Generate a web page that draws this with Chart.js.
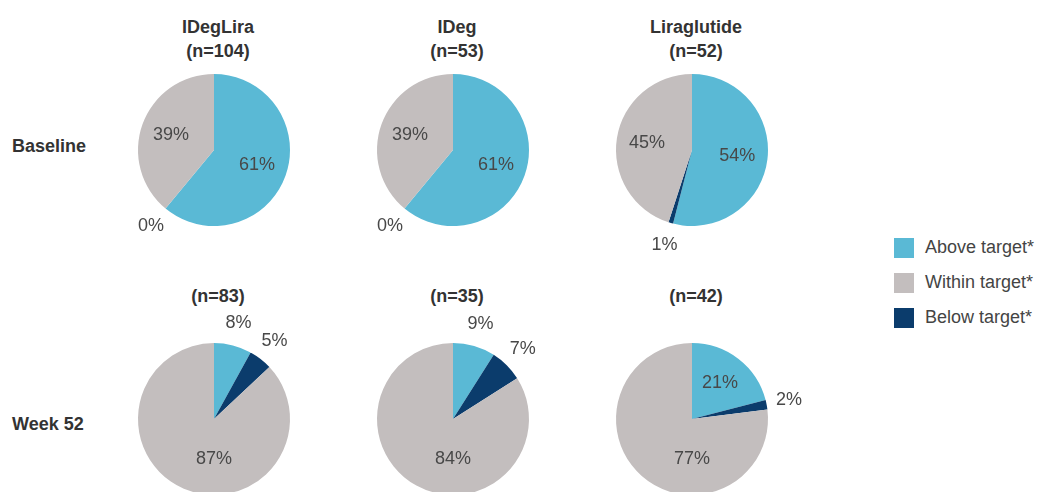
<!DOCTYPE html>
<html>
<head>
<meta charset="utf-8">
<script src="https://cdn.jsdelivr.net/npm/chart.js@4/dist/chart.umd.min.js"></script>
<style>
  body { margin: 0; background: #fff; overflow: hidden; font-family: "Liberation Sans", Arial, sans-serif; }
  #wrap { position: relative; width: 1039px; height: 492px; overflow: hidden; }
  .pie { position: absolute; width: 240px; height: 210px; }
  .txt { position: absolute; color: #333; font-weight: bold; font-size: 18px; white-space: nowrap; line-height: 24px; }
  .title { transform: translateX(-50%); text-align: center; }
  .leg { position: absolute; left: 894px; font-size: 18px; color: #444; white-space: nowrap; }
  .leg span { display: inline-block; width: 20px; height: 20px; vertical-align: middle; margin-right: 11px; }
</style>
</head>
<body>
<div id="wrap"></div>
<script>
const groups = ['IDegLira', 'IDeg', 'Liraglutide'];
const rows = ['Baseline', 'Week 52'];
const baselineN = [104, 53, 52];
const week52N = [83, 35, 42];

// slice order clockwise from 12 o'clock: above, below, within
const categories = ['Above target*', 'Below target*', 'Within target*'];
const baselineAbove = [61, 61, 54];
const baselineBelow = [0, 0, 1];
const baselineWithin = [39, 39, 45];
const week52Above = [8, 9, 21];
const week52Below = [5, 7, 2];
const week52Within = [87, 84, 77];

const colors = ['#5ab9d5', '#0b3c6c', '#c3bebe'];
const legendOrder = [0, 2, 1];

const colX = [214, 453, 692];
const rowY = [150, 419];

const wrap = document.getElementById('wrap');

function addText(cls, text, x, y) {
    const d = document.createElement('div');
    d.className = 'txt ' + cls;
    d.innerHTML = text;
    d.style.left = x + 'px';
    d.style.top = y + 'px';
    wrap.appendChild(d);
}

// percent labels: small slices outside, big ones inside
const pctLabels = {
    id: 'pctLabels',
    afterDatasetsDraw(chart) {
        const ctx = chart.ctx;
        const values = chart.data.datasets[0].data;
        ctx.save();
        ctx.font = '18px "Liberation Sans", Arial, sans-serif';
        ctx.fillStyle = '#484848';
        ctx.textAlign = 'center';
        ctx.textBaseline = 'middle';
        chart.getDatasetMeta(0).data.forEach((arc, i) => {
            const v = values[i];
            let a = (arc.startAngle + arc.endAngle) / 2;
            let r = arc.outerRadius * 0.6;
            if (v < 15) r = arc.outerRadius * 1.3;
            else if (v > 70) { a = Math.PI / 2; r = arc.outerRadius * 0.53; }
            ctx.fillText(v + '%', arc.x + Math.cos(a) * r, arc.y + Math.sin(a) * r);
        });
        ctx.restore();
    }
};

function drawPie(cx, cy, values) {
    const c = document.createElement('canvas');
    c.className = 'pie';
    c.width = 240;
    c.height = 210;
    c.style.left = (cx - 120) + 'px';
    c.style.top = (cy - 105) + 'px';
    wrap.appendChild(c);
    new Chart(c, {
        type: 'pie',
        data: {
            labels: categories,
            datasets: [{ data: values, backgroundColor: colors, borderWidth: 0 }]
        },
        options: {
            responsive: false,
            animation: false,
            events: [],
            layout: { padding: { left: 44, right: 44, top: 29, bottom: 29 } },
            plugins: { legend: { display: false }, tooltip: { enabled: false } }
        },
        plugins: [pctLabels]
    });
}

groups.forEach((g, i) => {
    addText('title', g + '<br>(n=' + baselineN[i] + ')', colX[i] + 4, 15);
    addText('title', '(n=' + week52N[i] + ')', colX[i] + 4, 284);
    drawPie(colX[i], rowY[0], [baselineAbove[i], baselineBelow[i], baselineWithin[i]]);
    drawPie(colX[i], rowY[1], [week52Above[i], week52Below[i], week52Within[i]]);
});

addText('', rows[0], 12, 134);
addText('', rows[1], 12, 412);

legendOrder.forEach((k, j) => {
    const d = document.createElement('div');
    d.className = 'leg';
    d.style.top = (237 + j * 35) + 'px';
    d.innerHTML = '<span style="background:' + colors[k] + '"></span>' + categories[k];
    wrap.appendChild(d);
});
</script>
</body>
</html>
